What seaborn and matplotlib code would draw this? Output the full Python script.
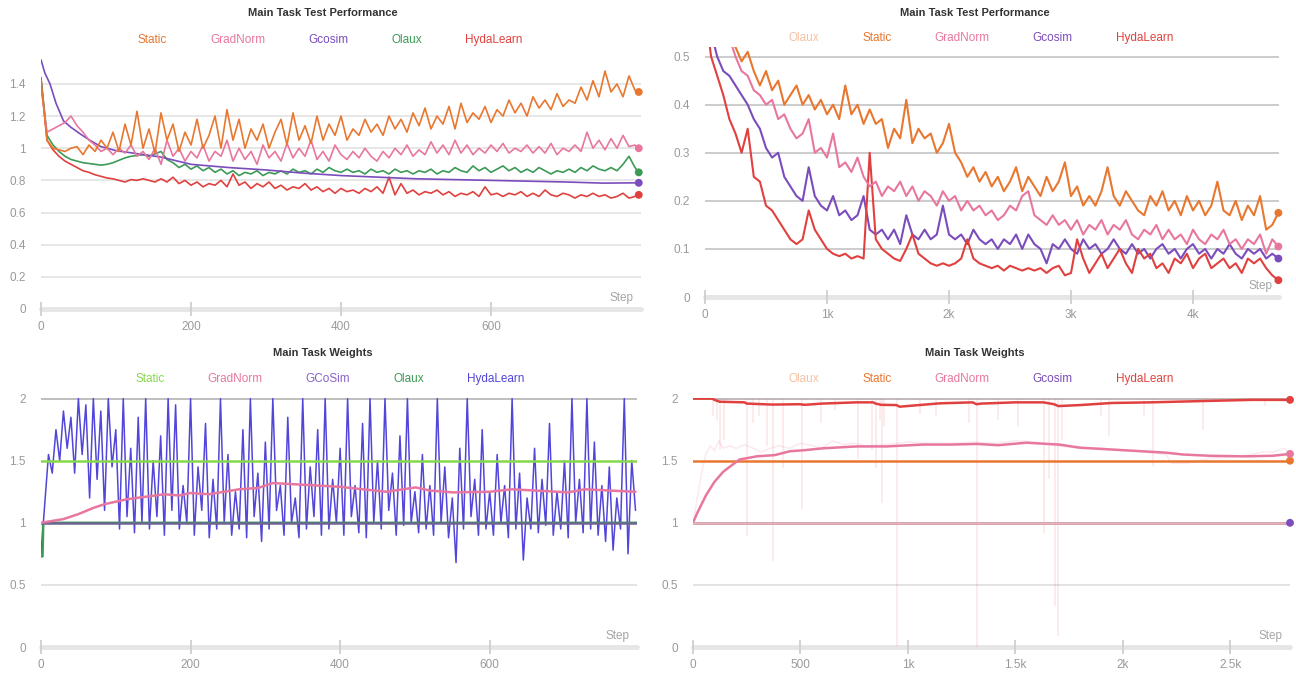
import numpy as np
import pandas as pd
import matplotlib
matplotlib.use("Agg")
import matplotlib.pyplot as plt
from matplotlib.lines import Line2D
import seaborn as sns

# -----------------------------
# Data: Main Task Test Performance (left, 800 steps)
# -----------------------------
steps_tl = np.append(np.arange(0, 800, 8), 797)

static_tl = [
    1.42, 1.05, 1.00, 0.99, 0.98, 1.00, 1.01, 0.96, 1.02, 0.98,
    1.05, 1.00, 1.10, 0.98, 1.15, 1.02, 1.23, 1.00, 1.12, 0.97,
    1.22, 1.05, 1.15, 0.98, 1.10, 1.02, 1.18, 1.00, 1.08, 1.20,
    1.00, 1.24, 1.05, 1.18, 1.00, 1.12, 1.05, 1.15, 1.00, 1.10,
    1.18, 1.02, 1.22, 1.05, 1.14, 1.03, 1.20, 1.05, 1.15, 1.08,
    1.20, 1.05, 1.12, 1.08, 1.18, 1.10, 1.15, 1.08, 1.20, 1.12,
    1.18, 1.10, 1.22, 1.14, 1.25, 1.12, 1.20, 1.15, 1.26, 1.12,
    1.28, 1.16, 1.22, 1.18, 1.26, 1.16, 1.24, 1.20, 1.30, 1.22,
    1.28, 1.20, 1.32, 1.25, 1.30, 1.24, 1.34, 1.26, 1.30, 1.28,
    1.38, 1.30, 1.42, 1.32, 1.48, 1.35, 1.40, 1.32, 1.45, 1.36,
    1.35,
]
gradnorm_tl = [
    1.38, 1.10, 1.12, 1.14, 1.16, 1.20, 1.14, 1.10, 1.05, 1.02,
    0.98, 1.00, 0.96, 1.00, 0.97, 1.02, 0.95, 0.98, 0.93, 1.00,
    0.90, 1.05, 0.95, 1.00, 0.92, 0.98, 0.94, 1.02, 0.92, 0.98,
    0.95, 1.05, 0.92, 1.00, 0.93, 0.98, 0.90, 1.02, 0.94, 0.98,
    0.92, 1.03, 0.94, 1.00, 0.95, 1.05, 0.93, 0.98, 0.92, 1.02,
    0.96, 0.93, 0.98, 0.94, 1.00, 0.95, 0.92, 0.98, 0.94, 1.00,
    0.96, 1.02, 0.95, 0.99, 0.96, 1.04, 0.97, 1.02, 0.96, 1.05,
    0.97, 1.02, 0.96, 1.00, 0.97, 1.02, 0.98, 1.03, 0.97, 1.00,
    0.98, 1.02, 0.97, 1.01, 0.97, 1.03, 0.96, 1.00, 0.98, 1.02,
    0.98, 1.10, 1.00, 1.05, 0.99, 1.06, 1.00, 1.08, 1.01, 1.02,
    1.00,
]
olaux_tl = [
    1.43, 1.08, 1.02, 0.98, 0.95, 0.93, 0.92, 0.91, 0.905, 0.90,
    0.895, 0.90, 0.91, 0.925, 0.94, 0.95, 0.955, 0.96, 0.95, 0.965,
    0.98, 0.93, 0.91, 0.88, 0.90, 0.87, 0.89, 0.86, 0.88, 0.85,
    0.87, 0.84, 0.86, 0.83, 0.85, 0.84, 0.86, 0.83, 0.85, 0.84,
    0.86, 0.84, 0.87, 0.85, 0.86, 0.84, 0.87, 0.85, 0.88, 0.86,
    0.85, 0.87, 0.85, 0.86, 0.84, 0.87, 0.85, 0.86, 0.84, 0.87,
    0.85, 0.86, 0.84, 0.86, 0.85, 0.87, 0.84, 0.86, 0.85, 0.88,
    0.86, 0.85, 0.89, 0.86, 0.88, 0.85, 0.87, 0.89, 0.86, 0.88,
    0.85, 0.87, 0.85, 0.88, 0.86, 0.84, 0.86, 0.85, 0.87, 0.85,
    0.88, 0.86, 0.89, 0.87, 0.86, 0.88, 0.86, 0.90, 0.95, 0.88,
    0.85,
]
hydalearn_tl = [
    1.44, 1.05, 0.99, 0.95, 0.92, 0.90, 0.88, 0.86, 0.85, 0.835,
    0.825, 0.815, 0.81, 0.80, 0.79, 0.805, 0.80, 0.81, 0.80, 0.79,
    0.81, 0.79, 0.82, 0.78, 0.80, 0.77, 0.79, 0.76, 0.78, 0.77,
    0.80, 0.76, 0.84, 0.77, 0.79, 0.75, 0.78, 0.76, 0.79, 0.75,
    0.77, 0.74, 0.76, 0.75, 0.78, 0.74, 0.76, 0.73, 0.75, 0.72,
    0.75, 0.73, 0.74, 0.72, 0.75, 0.73, 0.76, 0.72, 0.82, 0.71,
    0.78, 0.72, 0.74, 0.71, 0.73, 0.72, 0.74, 0.71, 0.73, 0.70,
    0.72, 0.71, 0.73, 0.70, 0.76, 0.71, 0.72, 0.70, 0.72, 0.71,
    0.73, 0.70, 0.72, 0.70, 0.74, 0.71, 0.70, 0.72, 0.71, 0.69,
    0.71, 0.70, 0.72, 0.70, 0.71, 0.69, 0.70, 0.72, 0.69, 0.70,
    0.71,
]
gcosim_tl_steps = [0, 5, 12, 20, 30, 40, 52, 65, 80, 100, 130, 160, 200,
                   250, 300, 350, 400, 450, 500, 550, 600, 650, 700, 750, 797]
gcosim_tl = [1.55, 1.47, 1.40, 1.28, 1.17, 1.13, 1.09, 1.05, 1.01, 0.985,
             0.965, 0.945, 0.90, 0.88, 0.865, 0.845, 0.83, 0.82, 0.81,
             0.805, 0.80, 0.795, 0.79, 0.783, 0.785]

# -----------------------------
# Data: Main Task Test Performance (right, ~4.7k steps)
# -----------------------------
steps_tr = np.arange(0, 4701, 50)

static_tr = [
    0.62, 0.60, 0.58, 0.56, 0.53, 0.52, 0.49, 0.51, 0.47, 0.44,
    0.47, 0.43, 0.45, 0.40, 0.42, 0.44, 0.40, 0.42, 0.39, 0.41,
    0.38, 0.40, 0.37, 0.44, 0.38, 0.40, 0.36, 0.39, 0.36, 0.37,
    0.31, 0.35, 0.33, 0.41, 0.32, 0.35, 0.33, 0.34, 0.30, 0.32,
    0.36, 0.30, 0.28, 0.25, 0.27, 0.24, 0.26, 0.23, 0.25, 0.22,
    0.24, 0.27, 0.22, 0.25, 0.23, 0.21, 0.25, 0.22, 0.24, 0.28,
    0.21, 0.23, 0.19, 0.21, 0.19, 0.22, 0.27, 0.21, 0.19, 0.22,
    0.20, 0.18, 0.17, 0.21, 0.19, 0.22, 0.18, 0.20, 0.17, 0.21,
    0.18, 0.20, 0.17, 0.19, 0.24, 0.18, 0.17, 0.20, 0.16, 0.19,
    0.17, 0.21, 0.14, 0.15, 0.175,
]
gradnorm_tr = [
    0.66, 0.63, 0.60, 0.57, 0.54, 0.50, 0.47, 0.46, 0.43, 0.42,
    0.40, 0.41, 0.37, 0.38, 0.35, 0.33, 0.34, 0.37, 0.30, 0.31,
    0.29, 0.34, 0.27, 0.28, 0.26, 0.29, 0.25, 0.23, 0.24, 0.21,
    0.23, 0.22, 0.24, 0.21, 0.23, 0.20, 0.22, 0.21, 0.19, 0.22,
    0.20, 0.21, 0.18, 0.20, 0.18, 0.19, 0.17, 0.18, 0.16, 0.17,
    0.19, 0.18, 0.21, 0.22, 0.17, 0.16, 0.15, 0.17, 0.15, 0.16,
    0.14, 0.16, 0.13, 0.15, 0.14, 0.16, 0.13, 0.15, 0.14, 0.16,
    0.13, 0.12, 0.14, 0.13, 0.15, 0.12, 0.14, 0.12, 0.13, 0.11,
    0.14, 0.12, 0.11, 0.13, 0.12, 0.14, 0.11, 0.12, 0.10, 0.12,
    0.11, 0.13, 0.09, 0.12, 0.105,
]
gcosim_tr = [
    0.60, 0.55, 0.50, 0.47, 0.46, 0.44, 0.42, 0.40, 0.37, 0.35,
    0.31, 0.29, 0.30, 0.25, 0.23, 0.21, 0.20, 0.27, 0.21, 0.19,
    0.18, 0.21, 0.17, 0.18, 0.16, 0.17, 0.21, 0.14, 0.13, 0.14,
    0.12, 0.14, 0.11, 0.17, 0.13, 0.12, 0.14, 0.12, 0.13, 0.19,
    0.13, 0.12, 0.13, 0.11, 0.14, 0.12, 0.11, 0.12, 0.10, 0.12,
    0.11, 0.13, 0.10, 0.13, 0.11, 0.10, 0.07, 0.11, 0.10, 0.12,
    0.10, 0.09, 0.12, 0.10, 0.11, 0.09, 0.10, 0.12, 0.10, 0.09,
    0.11, 0.09, 0.10, 0.08, 0.10, 0.11, 0.09, 0.10, 0.08, 0.10,
    0.11, 0.09, 0.10, 0.08, 0.10, 0.09, 0.11, 0.09, 0.08, 0.10,
    0.09, 0.10, 0.08, 0.09, 0.08,
]
hydalearn_tr = [
    0.60, 0.50, 0.46, 0.42, 0.37, 0.34, 0.30, 0.35, 0.25, 0.24,
    0.19, 0.18, 0.16, 0.14, 0.12, 0.11, 0.12, 0.18, 0.14, 0.12,
    0.10, 0.09, 0.085, 0.09, 0.08, 0.085, 0.08, 0.30, 0.12, 0.10,
    0.09, 0.08, 0.075, 0.10, 0.13, 0.09, 0.08, 0.07, 0.065, 0.07,
    0.065, 0.07, 0.08, 0.12, 0.08, 0.07, 0.065, 0.06, 0.065, 0.055,
    0.065, 0.06, 0.055, 0.06, 0.055, 0.06, 0.05, 0.06, 0.065, 0.045,
    0.05, 0.12, 0.08, 0.05, 0.07, 0.09, 0.06, 0.08, 0.10, 0.07,
    0.05, 0.10, 0.08, 0.09, 0.06, 0.07, 0.05, 0.08, 0.07, 0.09,
    0.06, 0.08, 0.09, 0.06, 0.07, 0.08, 0.06, 0.07, 0.05, 0.08,
    0.07, 0.08, 0.06, 0.045, 0.035,
]

# -----------------------------
# Data: Main Task Weights (left, 800 steps)
# -----------------------------
steps_bl = np.arange(0, 800, 5)
hydalearn_bl = [
    0.75, 1.15, 1.55, 1.40, 1.75, 1.50, 1.90, 1.60, 1.85, 1.40,
    2.00, 1.55, 1.95, 1.20, 2.00, 1.35, 1.90, 1.10, 2.00, 1.45,
    1.75, 0.95, 2.00, 1.05, 1.60, 0.92, 1.85, 1.00, 2.00, 0.95,
    1.50, 1.05, 1.70, 0.90, 2.00, 1.10, 1.95, 0.95, 1.30, 1.00,
    2.00, 0.90, 1.45, 1.10, 1.80, 0.88, 1.35, 0.95, 2.00, 1.00,
    1.55, 0.90, 1.25, 0.95, 1.75, 0.88, 2.00, 1.05, 1.40, 0.85,
    1.65, 0.95, 2.00, 1.10, 1.30, 0.90, 1.85, 1.00, 1.20, 0.88,
    2.00, 0.95, 1.45, 1.05, 1.75, 0.90, 2.00, 0.95, 1.35, 1.00,
    1.60, 0.90, 2.00, 1.05, 1.30, 0.92, 1.80, 0.88, 2.00, 1.00,
    1.50, 0.95, 2.00, 1.10, 1.40, 0.90, 1.70, 0.98, 2.00, 1.00,
    1.25, 0.92, 1.55, 0.95, 1.30, 0.90, 2.00, 1.00, 1.45, 0.88,
    1.20, 0.68, 1.60, 0.95, 2.00, 1.05, 1.35, 0.90, 1.75, 0.95,
    1.25, 0.90, 1.55, 1.00, 1.30, 0.88, 2.00, 0.95, 1.40, 0.70,
    1.20, 0.95, 1.60, 0.92, 1.35, 0.98, 1.80, 0.90, 1.25, 0.95,
    1.50, 0.88, 2.00, 1.00, 1.35, 0.92, 2.00, 0.95, 1.65, 0.90,
    1.30, 0.85, 1.45, 0.78, 1.20, 0.95, 2.00, 0.75, 1.50, 1.10,
]
gradnorm_bl_steps = [0, 10, 30, 50, 70, 85, 100, 115, 140, 165, 185, 200, 225,
                     245, 265, 290, 310, 340, 370, 400, 430, 462, 501, 520,
                     551, 600, 630, 660, 705, 727, 760, 795]
gradnorm_bl = [1.0, 1.01, 1.03, 1.07, 1.12, 1.15, 1.17, 1.19, 1.21, 1.23,
               1.22, 1.24, 1.23, 1.25, 1.27, 1.28, 1.32, 1.31, 1.30, 1.29,
               1.27, 1.25, 1.285, 1.26, 1.245, 1.25, 1.27, 1.26, 1.245,
               1.27, 1.26, 1.25]
static_bl_steps = [0, 797]
static_bl = [1.5, 1.5]
olaux_bl_steps = [0, 2, 3, 797]
olaux_bl = [0.73, 0.73, 1.0, 1.0]
gcosim_bl_steps = [0, 797]
gcosim_bl = [1.0, 1.0]

# -----------------------------
# Data: Main Task Weights (right, ~2.8k steps)
# -----------------------------
hydalearn_br_steps = [0, 90, 100, 124, 240, 250, 372, 496, 520, 600, 761, 838,
                      850, 876, 946, 962, 1148, 1300, 1320, 1340, 1500, 1630,
                      1680, 1700, 1800, 1950, 2127, 2360, 2600, 2778]
hydalearn_br = [2.0, 2.0, 1.99, 1.975, 1.97, 1.96, 1.952, 1.955, 1.95, 1.96,
                1.97, 1.97, 1.96, 1.95, 1.948, 1.935, 1.962, 1.97, 1.955,
                1.96, 1.97, 1.97, 1.955, 1.94, 1.948, 1.965, 1.97, 1.98,
                1.99, 1.99]
# raw (unsmoothed) HydaLearn dips below 2.0
hydalearn_dip_steps = [92, 111, 125, 144, 249, 278, 307, 345, 370, 421, 508,
                       594, 661, 766, 833, 853, 872, 881, 891, 948, 1054,
                       1130, 1284, 1322, 1418, 1513, 1634, 1657, 1686, 1699,
                       1715, 1897, 1935, 2098, 2142, 2375, 2663]
hydalearn_dip_vals = [1.86, 1.83, 1.59, 1.67, 0.89, 1.80, 1.86, 1.62, 0.69,
                      1.44, 1.11, 1.80, 1.91, 1.51, 1.59, 1.44, 1.83, 1.16,
                      1.78, 0.01, 1.88, 1.86, 1.80, 0.0, 1.83, 1.78, 0.92,
                      1.35, 0.33, 0.09, 1.67, 1.86, 1.70, 1.86, 1.46, 1.75,
                      1.94]
gradnorm_br_steps = [0, 20, 40, 60, 78, 100, 120, 140, 170, 217, 250, 295, 380,
                     450, 520, 605, 760, 900, 1070, 1200, 1322, 1420, 1552,
                     1650, 1705, 1800, 1900, 2000, 2100, 2200, 2280, 2400,
                     2567, 2700, 2778]
gradnorm_br = [1.0, 1.08, 1.15, 1.22, 1.27, 1.33, 1.37, 1.41, 1.45, 1.51,
               1.52, 1.535, 1.545, 1.576, 1.585, 1.60, 1.615, 1.615, 1.63,
               1.63, 1.635, 1.625, 1.645, 1.635, 1.63, 1.605, 1.595, 1.585,
               1.575, 1.565, 1.55, 1.54, 1.535, 1.54, 1.555]
gradnorm_raw_steps = [0, 20, 40, 60, 80, 100, 120, 140, 170, 200, 240, 280,
                      320, 360, 400, 450, 500, 560, 600, 650, 700, 760, 800,
                      900, 1000, 1100, 1200, 1300, 1400, 1500, 1600, 1700,
                      1800, 1900, 2000, 2100, 2200, 2230, 2300, 2400, 2500,
                      2600, 2650, 2700, 2750, 2778]
gradnorm_raw = [1.0, 1.2, 1.4, 1.55, 1.62, 1.58, 1.66, 1.6, 1.62, 1.6, 1.63,
                1.6, 1.57, 1.6, 1.62, 1.6, 1.64, 1.62, 1.6, 1.66, 1.63, 1.64,
                1.62, 1.63, 1.65, 1.64, 1.64, 1.65, 1.64, 1.66, 1.65, 1.62,
                1.6, 1.6, 1.58, 1.57, 1.55, 1.48, 1.48, 1.52, 1.53, 1.55,
                1.57, 1.57, 1.6, 1.57]
static_br_steps = [0, 2778]
static_br = [1.5, 1.5]
gcosim_br_steps = [0, 2778]
gcosim_br = [1.0, 1.0]
olaux_br_steps = [0, 2778]
olaux_br = [1.0, 1.0]

# -----------------------------
# Tick labels
# -----------------------------
yt_perf_left = [0, 0.2, 0.4, 0.6, 0.8, 1.0, 1.2, 1.4]
yl_perf_left = ["0", "0.2", "0.4", "0.6", "0.8", "1", "1.2", "1.4"]
yt_perf_right = [0, 0.1, 0.2, 0.3, 0.4, 0.5]
yl_perf_right = ["0", "0.1", "0.2", "0.3", "0.4", "0.5"]
yt_w = [0, 0.5, 1.0, 1.5, 2.0]
yl_w = ["0", "0.5", "1", "1.5", "2"]
xt_800 = [0, 200, 400, 600]
xl_800 = ["0", "200", "400", "600"]
xt_tr = [0, 1000, 2000, 3000, 4000]
xl_tr = ["0", "1k", "2k", "3k", "4k"]
xt_br = [0, 500, 1000, 1500, 2000, 2500]
xl_br = ["0", "500", "1k", "1.5k", "2k", "2.5k"]

# colours
ORANGE = "#e8772f"
PINK = "#e8779f"
PURPLE = "#7b4cbc"
GREEN = "#3c9a57"
RED = "#e0413f"
PEACH = "#f6c0a2"
LIME = "#86d84a"
BLUE = "#5146d9"

# -----------------------------
# Plot setup
# -----------------------------
sns.set_theme(style="white")
plt.rcParams["font.family"] = ["Liberation Sans", "DejaVu Sans"]

W, H = 1296, 679
fig = plt.figure(figsize=(W / 100, H / 100), dpi=100)


def px_axes(left, right, bottom, top):
    return fig.add_axes([left / W, 1 - bottom / H, (right - left) / W, (bottom - top) / H])


ax_tl = px_axes(41, 641, 309, 55)
ax_tr = px_axes(705, 1279, 297, 47)
ax_bl = px_axes(41, 637, 647, 398)
ax_br = px_axes(693, 1290, 647, 398)


def long_df(series):
    parts = []
    for name, (xs, ys) in series.items():
        parts.append(pd.DataFrame({"step": xs, "value": ys, "run": name}))
    return pd.concat(parts, ignore_index=True)


def draw(ax, series, palette, lw, markers=True):
    df = long_df(series)
    sns.lineplot(data=df, x="step", y="value", hue="run", hue_order=list(series),
                 palette=palette, estimator=None, sort=False, legend=False,
                 linewidth=lw, ax=ax)
    if markers:
        last = df.groupby("run", sort=False).tail(1)
        sns.scatterplot(data=last, x="step", y="value", hue="run",
                        hue_order=list(series), palette=palette, s=32,
                        linewidth=0, legend=False, ax=ax, clip_on=False, zorder=5)


def style(ax, xlim, ylim, xt, xl, yt, yl, grid):
    ax.set_xlim(*xlim)
    ax.set_ylim(*ylim)
    for s in ax.spines.values():
        s.set_visible(False)
    ax.axhline(0, color="#e6e6e6", lw=3.5, zorder=0.5, clip_on=False)
    for y, c in grid.items():
        ax.axhline(y, color=c, lw=1.2, zorder=0.6)
    ax.set_xticks(xt)
    ax.set_xticklabels(xl)
    ax.set_yticks(yt)
    ax.set_yticklabels(yl)
    ax.tick_params(axis="y", length=0, pad=11, labelsize=8.5, labelcolor="#9a9a9a")
    ax.tick_params(axis="x", direction="inout", length=10, width=1.3,
                   color="#cfcfcf", pad=4, labelsize=8.5, labelcolor="#9a9a9a",
                   bottom=True)
    ax.set_xlabel("")
    ax.set_ylabel("")
    ax.text(0.988, 0.045, "Step", transform=ax.transAxes, ha="right",
            va="center", fontsize=8.5, color="#a5a5a5")


def legend(ax, labels, colors, cx, cy):
    handles = [Line2D([], [], color=c, lw=0) for c in colors]
    ax.legend(handles, labels, loc="center", bbox_to_anchor=(cx / W, 1 - cy / H),
              bbox_transform=fig.transFigure, ncol=len(labels), frameon=False,
              handlelength=0, handletextpad=0, columnspacing=3.65, fontsize=8.5,
              labelcolor=colors)


def title(text, cx, cy):
    fig.text(cx / W, 1 - cy / H, text, ha="center", va="center",
             fontsize=8, fontweight="bold", color="#333333")


# -----------------------------
# Top left
# -----------------------------
draw(ax_tl, {
    "HydaLearn": (steps_tl, hydalearn_tl),
    "Olaux": (steps_tl, olaux_tl),
    "Gcosim": (gcosim_tl_steps, gcosim_tl),
    "GradNorm": (steps_tl, gradnorm_tl),
    "Static": (steps_tl, static_tl),
}, {"HydaLearn": RED, "Olaux": GREEN, "Gcosim": PURPLE, "GradNorm": PINK,
    "Static": ORANGE}, 1.2)
style(ax_tl, (0, 800), (0, 1.58), xt_800, xl_800, yt_perf_left, yl_perf_left,
      {y: "#e3e3e3" for y in yt_perf_left[1:]})
legend(ax_tl, ["Static", "GradNorm", "Gcosim", "Olaux", "HydaLearn"],
       [ORANGE, PINK, PURPLE, GREEN, RED], 330, 40)
title("Main Task Test Performance", 323, 13)

# -----------------------------
# Top right
# -----------------------------
draw(ax_tr, {
    "Gcosim": (steps_tr, gcosim_tr),
    "HydaLearn": (steps_tr, hydalearn_tr),
    "GradNorm": (steps_tr, gradnorm_tr),
    "Static": (steps_tr, static_tr),
}, {"HydaLearn": RED, "Gcosim": PURPLE, "GradNorm": PINK, "Static": ORANGE}, 1.5)
style(ax_tr, (0, 4705), (0, 0.52), xt_tr, xl_tr, yt_perf_right, yl_perf_right,
      {y: "#c3c3c3" for y in yt_perf_right[1:]})
legend(ax_tr, ["Olaux", "Static", "GradNorm", "Gcosim", "HydaLearn"],
       [PEACH, ORANGE, PINK, PURPLE, RED], 981, 38)
title("Main Task Test Performance", 975, 13)

# -----------------------------
# Bottom left
# -----------------------------
draw(ax_bl, {"HydaLearn": (steps_bl, hydalearn_bl)}, {"HydaLearn": BLUE}, 1.1,
     markers=False)
draw(ax_bl, {
    "Olaux": (olaux_bl_steps, olaux_bl),
    "GCoSim": (gcosim_bl_steps, gcosim_bl),
    "Static": (static_bl_steps, static_bl),
    "GradNorm": (gradnorm_bl_steps, gradnorm_bl),
}, {"Olaux": GREEN, "GCoSim": "#6d6690", "Static": LIME, "GradNorm": PINK}, 1.8,
    markers=False)
style(ax_bl, (0, 797), (0, 2.005), xt_800, xl_800, yt_w, yl_w,
      {0.5: "#dedede", 2.0: "#b4b4b4"})
legend(ax_bl, ["Static", "GradNorm", "GCoSim", "Olaux", "HydaLearn"],
       [LIME, PINK, "#8b63c9", GREEN, BLUE], 330, 379)
title("Main Task Weights", 323, 353)

# -----------------------------
# Bottom right
# -----------------------------
ax_br.vlines(hydalearn_dip_steps, hydalearn_dip_vals, 2.0, color=RED,
             alpha=0.12, lw=1.2, zorder=1)
sns.lineplot(x=gradnorm_raw_steps, y=gradnorm_raw, color=PINK, alpha=0.15,
             linewidth=1.2, estimator=None, ax=ax_br)
draw(ax_br, {
    "Gcosim": (gcosim_br_steps, gcosim_br),
    "Static": (static_br_steps, static_br),
    "GradNorm": (gradnorm_br_steps, gradnorm_br),
    "HydaLearn": (hydalearn_br_steps, hydalearn_br),
}, {"Gcosim": PURPLE, "Static": ORANGE, "GradNorm": PINK, "HydaLearn": RED}, 1.8)
# Olaux sits on top of Gcosim at 1.0, its own end dot hidden below Gcosim's
draw(ax_br, {"Olaux": (olaux_br_steps, olaux_br)}, {"Olaux": "#e9b4b0"}, 1.8,
     markers=False)
style(ax_br, (0, 2778), (0, 2.005), xt_br, xl_br, yt_w, yl_w,
      {0.5: "#dedede", 2.0: "#b8aeae"})
legend(ax_br, ["Olaux", "Static", "GradNorm", "Gcosim", "HydaLearn"],
       [PEACH, ORANGE, PINK, PURPLE, RED], 981, 379)
title("Main Task Weights", 975, 353)

fig.savefig("out.png", dpi=100)
